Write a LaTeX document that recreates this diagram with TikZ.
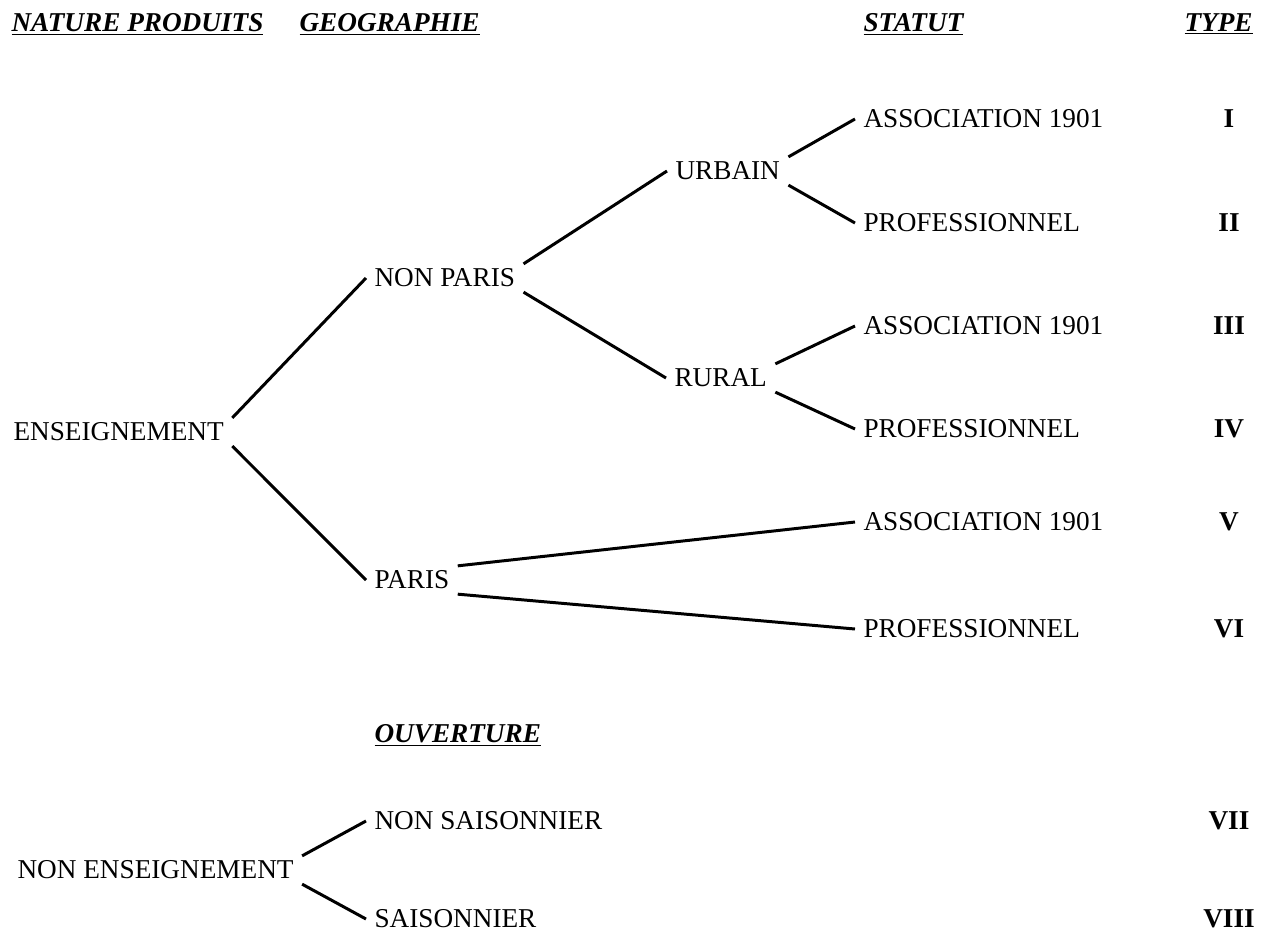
\documentclass[tikz,border=0pt]{standalone}
\usepackage{fontspec}
\setmainfont{Liberation Serif}
\usepackage{tikz}
\tikzset{
    every node/.style={anchor=west, inner xsep=4pt, inner ysep=2pt, font=\fontsize{15.5}{18}\selectfont}
}
\tikzset{hdr/.style={font=\fontsize{15.5}{18}\selectfont\bfseries\itshape}}
\tikzset{typ/.style={anchor=center, font=\fontsize{15.5}{18}\selectfont\bfseries}}

\begin{document}
\begin{tikzpicture}[x=0.02cm, y=-0.02cm, line width=1.7pt]
        \useasboundingbox (0,0) rectangle (1262,934);
        % headings
        \node (h0) [hdr] at (3, 24) {\underline{NATURE PRODUITS}};
        \node (h1) [hdr] at (291, 24) {\underline{GEOGRAPHIE}};
        \node (h2) [hdr] at (855, 24) {\underline{STATUT}};
        \node (h3) [hdr] at (1176, 24) {\underline{TYPE}};
        \node (h4) [hdr] at (366, 735) {\underline{OUVERTURE}};
        % tree
        \node (ens) at (5, 432) {ENSEIGNEMENT};
        \node (np) at (366, 278) {NON PARIS};
        \node (p) at (366, 580) {PARIS};
        \node (urb) at (667, 171) {URBAIN};
        \node (rur) at (666, 378) {RURAL};
        \node (s1) at (855, 119) {ASSOCIATION 1901};
        \node (s2) at (855, 223) {PROFESSIONNEL};
        \node (s3) at (855, 326) {ASSOCIATION 1901};
        \node (s4) at (855, 429) {PROFESSIONNEL};
        \node (s5) at (855, 522) {ASSOCIATION 1901};
        \node (s6) at (855, 629) {PROFESSIONNEL};
        \node (ne) at (9, 870) {NON ENSEIGNEMENT};
        \node (ns) at (366, 821) {NON SAISONNIER};
        \node (sa) at (366, 919) {SAISONNIER};
        % types
        \node (t1) [typ] at (1229, 119) {I};
        \node (t2) [typ] at (1229, 223) {II};
        \node (t3) [typ] at (1229, 326) {III};
        \node (t4) [typ] at (1229, 429) {IV};
        \node (t5) [typ] at (1229, 522) {V};
        \node (t6) [typ] at (1229, 629) {VI};
        \node (t7) [typ] at (1229, 821) {VII};
        \node (t8) [typ] at (1229, 919) {VIII};
        \draw (ens.north east) edge (np.west);
        \draw (ens.south east) edge (p.west);
        \draw (np.north east) edge (urb.west);
        \draw (np.south east) edge (rur.west);
        \draw (urb.north east) edge (s1.west);
        \draw (urb.south east) edge (s2.west);
        \draw (rur.north east) edge (s3.west);
        \draw (rur.south east) edge (s4.west);
        \draw (p.north east) edge (s5.west);
        \draw (p.south east) edge (s6.west);
        \draw (ne.north east) edge (ns.west);
        \draw (ne.south east) edge (sa.west);
\end{tikzpicture}
\end{document}
